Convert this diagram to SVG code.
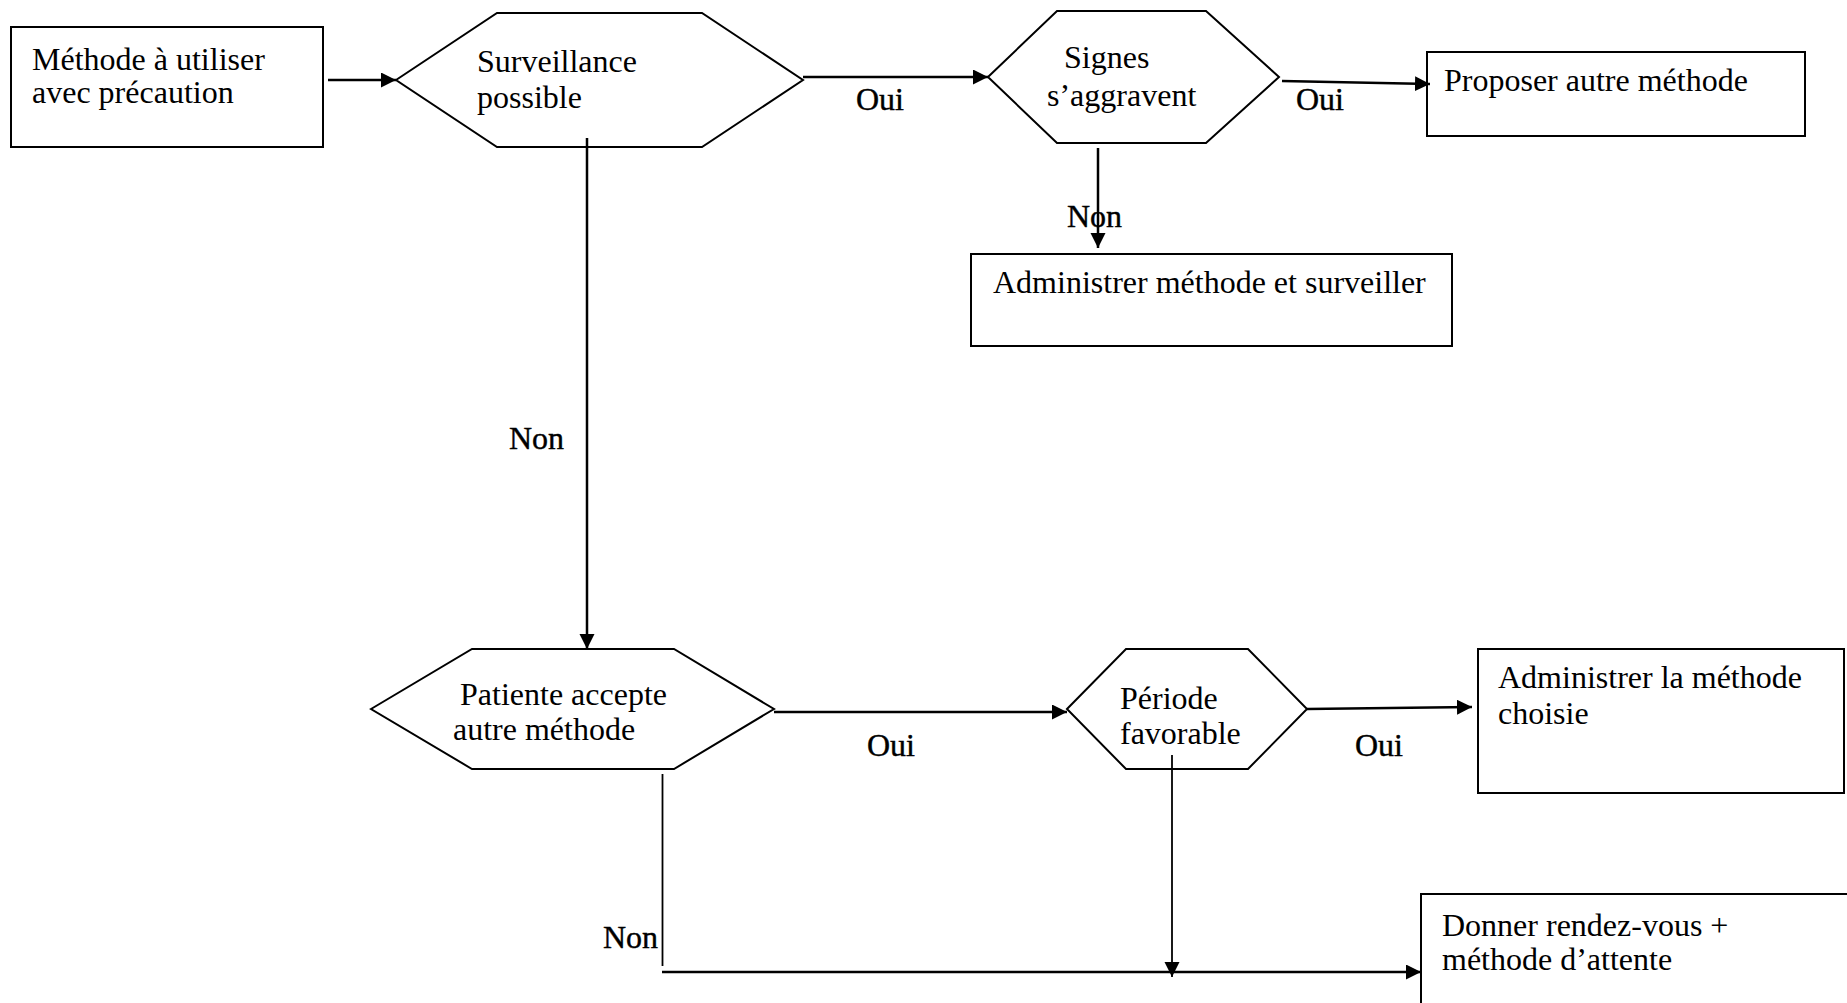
<svg xmlns="http://www.w3.org/2000/svg" width="1847" height="1003" viewBox="0 0 1847 1003">
  <style>
    .shape { fill: #ffffff; stroke: #000000; stroke-width: 2; }
    .txt { font-family: "Liberation Serif", "Times New Roman", serif; font-size: 32px; fill: #000000; }
    .lbl { font-family: "Liberation Serif", "Times New Roman", serif; font-size: 32px; fill: #000000; stroke: #000000; stroke-width: 0.4; }
    .link { fill: none; stroke: #000000; stroke-width: 2.5; }
    .thin { fill: none; stroke: #000000; stroke-width: 1.8; }
  </style>
  <defs>
    <marker id="arrow" markerUnits="userSpaceOnUse" markerWidth="18" markerHeight="18" refX="15" refY="7.5" orient="auto">
      <path d="M0,0 L15,7.5 L0,15 Z" fill="#000000"/>
    </marker>
  </defs>
  <rect width="1847" height="1003" fill="#ffffff"/>

  <!-- Nodes -->
  <g id="methode-precaution">
    <rect class="shape" x="11" y="27" width="312" height="120"/>
    <text class="txt" x="32" y="70">Méthode à utiliser</text>
    <text class="txt" x="32" y="103">avec précaution</text>
  </g>

  <g id="surveillance-possible">
    <polygon class="shape" points="396,80 497,13 702,13 803,80 702,147 497,147"/>
    <text class="txt" x="477" y="72">Surveillance</text>
    <text class="txt" x="477" y="108">possible</text>
  </g>

  <g id="signes-aggravent">
    <polygon class="shape" points="988,77 1057,11 1206,11 1279,77 1206,143 1057,143"/>
    <text class="txt" x="1064" y="68">Signes</text>
    <text class="txt" x="1047" y="106">s’aggravent</text>
  </g>

  <g id="proposer-autre">
    <rect class="shape" x="1427" y="52" width="378" height="84"/>
    <text class="txt" x="1444" y="91">Proposer autre méthode</text>
  </g>

  <g id="administrer-surveiller">
    <rect class="shape" x="971" y="254" width="481" height="92"/>
    <text class="txt" x="993" y="293">Administrer méthode et surveiller</text>
  </g>

  <g id="patiente-accepte">
    <polygon class="shape" points="371,709 472,649 674,649 774,709 674,769 472,769"/>
    <text class="txt" x="460" y="705">Patiente accepte</text>
    <text class="txt" x="453" y="740">autre méthode</text>
  </g>

  <g id="periode-favorable">
    <polygon class="shape" points="1067,709 1126,649 1248,649 1307,709 1248,769 1126,769"/>
    <text class="txt" x="1120" y="709">Période</text>
    <text class="txt" x="1120" y="744">favorable</text>
  </g>

  <g id="administrer-choisie">
    <rect class="shape" x="1478" y="649" width="366" height="144"/>
    <text class="txt" x="1498" y="688">Administrer la méthode</text>
    <text class="txt" x="1498" y="724">choisie</text>
  </g>

  <g id="rendez-vous">
    <rect class="shape" x="1421" y="894" width="440" height="130"/>
    <text class="txt" x="1442" y="936">Donner rendez-vous +</text>
    <text class="txt" x="1442" y="970">méthode d’attente</text>
  </g>

  <!-- Connectors -->
  <g id="connectors">
    <line class="link" x1="328" y1="80" x2="396" y2="80" marker-end="url(#arrow)"/>
    <line class="link" x1="803" y1="77" x2="988" y2="77" marker-end="url(#arrow)"/>
    <line class="link" x1="1282" y1="81" x2="1430" y2="84" marker-end="url(#arrow)"/>
    <line class="link" x1="1098" y1="148" x2="1098" y2="248" marker-end="url(#arrow)"/>
    <line class="link" x1="587" y1="138" x2="587" y2="649" marker-end="url(#arrow)"/>
    <line class="link" x1="774" y1="712" x2="1067" y2="712" marker-end="url(#arrow)"/>
    <line class="link" x1="1307" y1="709" x2="1472" y2="707" marker-end="url(#arrow)"/>
    <line class="thin" x1="662.5" y1="774" x2="662.5" y2="966"/>
    <line class="link" x1="662" y1="972" x2="1421" y2="972" marker-end="url(#arrow)"/>
    <line class="thin" x1="1172" y1="755" x2="1172" y2="977" marker-end="url(#arrow)"/>

    <!-- Branch labels -->
    <text class="lbl" x="856" y="110">Oui</text>
    <text class="lbl" x="1296" y="110">Oui</text>
    <text class="lbl" x="1067" y="227">Non</text>
    <text class="lbl" x="509" y="449">Non</text>
    <text class="lbl" x="867" y="756">Oui</text>
    <text class="lbl" x="1355" y="756">Oui</text>
    <text class="lbl" x="603" y="948">Non</text>
  </g>
</svg>
